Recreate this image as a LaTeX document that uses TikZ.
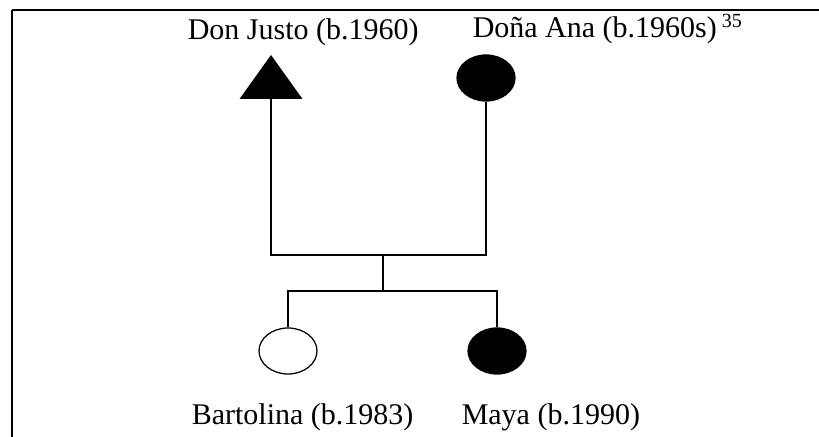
\documentclass[tikz,border=0pt]{standalone}
\usepackage{fontspec}
\setmainfont{Liberation Serif}
\usetikzlibrary{shapes.geometric}

\def\lw{0.6pt}

\begin{document}
\begin{tikzpicture}[x=0.4pt, y=-0.4pt, line width=\lw,
  female/.style={ellipse, draw, line width=0.5pt, minimum width=23.2pt,
    minimum height=18.4pt, inner sep=0pt},
  lbl/.style={anchor=base west, inner sep=0pt, font=\fontsize{12}{14}\selectfont}]
\useasboundingbox (0,0) rectangle (819,437);
\draw[line width=0.5pt] (12,437) -- (12,10);
\draw[line width=0.9pt] (12,10) -- (819,10);
% parents
\fill (239.5,99) -- (271,55) -- (302.5,99) -- cycle;
\coordinate (justo) at (271,99);
\node[female, fill=black] (ana) at (486,78) {};
\node[lbl] (lJusto) at (187,40) {Don Justo (b.1960)};
\node[lbl] (lAna) at (472,38) {Doña Ana (b.1960s)\,\textsuperscript{35}};
% children
\node[female] (bart) at (288,351) {};
\node[female, fill=black] (maya) at (497,351) {};
\node[lbl] (lBart) at (191,425) {Bartolina (b.1983)};
\node[lbl] (lMaya) at (461,425) {Maya (b.1990)};
% lines
\coordinate (fam) at (383,255);
\coordinate (sib) at (383,291);
\draw (justo) |- (fam) -| (ana.south);
\draw (fam) -- (sib);
\draw (bart.north) |- (sib) -| (maya.north);
\end{tikzpicture}
\end{document}
